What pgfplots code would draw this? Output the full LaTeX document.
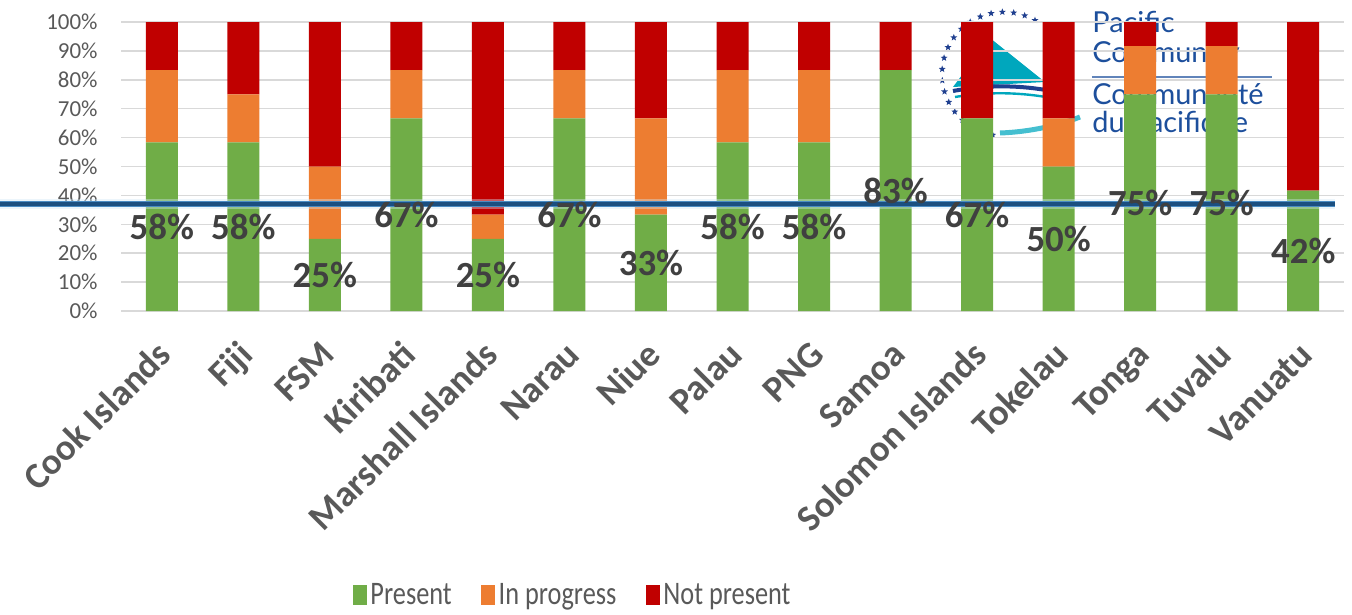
\documentclass[border=0pt]{standalone}
\usepackage{pgfplots}
\pgfplotsset{compat=1.18}
\usepackage{pgfplotstable}
\usepackage{fontspec}
\setmainfont{Carlito}
\newfontfamily\logofont{Lato}
\usetikzlibrary{shapes.geometric}
\definecolor{cgreen}{HTML}{70AD47}
\definecolor{corange}{HTML}{ED7D31}
\definecolor{cred}{HTML}{C00000}
\definecolor{gridgray}{HTML}{D9D9D9}
\definecolor{labgray}{HTML}{595959}
\definecolor{datagray}{HTML}{404040}
\definecolor{logoblue}{HTML}{1D4F9C}
\definecolor{logonavy}{HTML}{1F3F8F}
\definecolor{logoteal}{HTML}{00A7BD}
\definecolor{logolteal}{HTML}{45BFD0}
\definecolor{glow}{HTML}{CFE6F5}
\definecolor{midblue}{HTML}{4A8CC4}
\definecolor{darkblue}{HTML}{1B4F80}

\pgfplotstableread{
x present progress notpresent
0  58.33 25.00 16.67
1  58.33 16.67 25.00
2  25.00 25.00 50.00
3  66.67 16.67 16.66
4  25.00  8.33 66.67
5  66.67 16.67 16.66
6  33.33 33.33 33.34
7  58.33 25.00 16.67
8  58.33 25.00 16.67
9  83.33  0.00 16.67
10 66.67  0.00 33.33
11 50.00 16.67 33.33
12 75.00 16.67  8.33
13 75.00 16.67  8.33
14 41.67  0.00 58.33
}\data

\pgfplotsset{common/.style={
  at={(60.5bp,-155.5bp)}, anchor=south west,
  scale only axis, width=611.5bp, height=144.5bp,
  xmin=-0.5, xmax=14.5, ymin=0, ymax=100,
  /pgf/number format/assume math mode=true}}

\begin{document}
\begin{tikzpicture}
\useasboundingbox (0,0) rectangle (676bp,-307.5bp);
% logo (behind the chart)
\begin{scope}[x=0.5bp,y=-0.5bp]
  \fill[logoteal] (953,87) -- (990,38) -- (1045,82) -- cycle;
  \draw[logonavy, line width=2bp] (953,91) .. controls (985,85) and (1015,85) .. (1046,90);
  \draw[logoteal, line width=1.2bp] (955,97) .. controls (985,92) and (1015,92) .. (1046,97);
  \draw[logolteal, line width=2.5bp] (1000,133) .. controls (1030,132) and (1060,125) .. (1080,117);
  \foreach \a in {60,70.5,...,266}
    \node[star, star points=5, star point ratio=2.3, fill=logonavy, inner sep=0pt, minimum size=3.6bp]
      at ({1004+62*cos(\a)},{74-62*sin(\a)}) {};
  \node[anchor=base west, text=logoblue, font=\logofont\fontsize{14.5}{14.5}\selectfont, inner sep=0pt] at (1092,32) {Pacific};
  \node[anchor=base west, text=logoblue, font=\logofont\fontsize{14.5}{14.5}\selectfont, inner sep=0pt] at (1092,62) {Community};
  \draw[logoblue!70, line width=0.6bp] (1092,77) -- (1272,77);
  \node[anchor=base west, text=logoblue, font=\logofont\fontsize{14.5}{14.5}\selectfont, inner sep=0pt] at (1092,105) {Communauté};
  \node[anchor=base west, text=logoblue, font=\logofont\fontsize{14.5}{14.5}\selectfont, inner sep=0pt] at (1092,133) {du Pacifique};
\end{scope}

\begin{axis}[common,
  ybar stacked, bar width=16bp,
  xtick={0,...,14},
  xticklabels={Cook Islands,Fiji,FSM,Kiribati,Marshall Islands,Narau,Niue,Palau,PNG,Samoa,Solomon Islands,Tokelau,Tonga,Tuvalu,Vanuatu},
  ytick={0,10,...,100},
  yticklabel={\pgfmathprintnumber{\tick}\%},
  ymajorgrids, grid style={draw=gridgray, line width=0.75bp},
  axis line style={draw=none}, major tick length=0pt,
  yticklabel style={font=\fontsize{11.5}{12}\selectfont, text=labgray, anchor=east, inner sep=0pt, xshift=-11.5bp},
  xticklabel style={font=\bfseries\fontsize{18.5}{20}\selectfont, text=labgray, xshift=0.5bp, yshift=-17.5bp, rotate=45, anchor=north east, inner sep=0pt, text height=0.75em, text depth=0.25em},
  legend style={at={(0.37,-0.983)}, anchor=center, legend columns=-1, draw=none, fill=none,
    font=\fontsize{16.5}{16.5}\selectfont, text=labgray,
    nodes={inner sep=1.75bp},
    /tikz/every even column/.append style={column sep=13bp}},
  legend image code/.code={\fill[#1,draw=none] (0bp,-5bp) rectangle (7bp,5bp);},
]
\addplot[fill=cgreen, draw=none] table[x=x,y=present]{\data};
\addplot[fill=corange, draw=none] table[x=x,y=progress]{\data};
\addplot[fill=cred, draw=none] table[x=x,y=notpresent]{\data};
\legend{\scalebox{0.8}[1]{Present}, \scalebox{0.8}[1]{In progress}, \scalebox{0.8}[1]{Not present}}
\end{axis}

% horizontal blue stroke across the chart
\begin{scope}[x=0.5bp,y=-0.5bp]
  \draw[line width=5bp, draw=glow, opacity=0.4] (0,204) -- (1335,204);
  \draw[line width=3bp, draw=midblue] (0,204) -- (1335,204);
  \draw[line width=1.9bp, draw=darkblue] (0,204) -- (1335,204);
\end{scope}

% data labels on top, centred on the green segments
\begin{axis}[common, hide axis]
\addplot[draw=none, mark=none,
  point meta=\thisrow{present},
  nodes near coords={\pgfmathprintnumber[fixed,precision=0]{\pgfplotspointmeta}\%},
  every node near coord/.append style={anchor=center, font=\bfseries\fontsize{18.5}{20}\selectfont, text=datagray, inner sep=0pt}
] table[x=x, y expr=\thisrow{present}/2]{\data};
\end{axis}
\end{tikzpicture}
\end{document}
